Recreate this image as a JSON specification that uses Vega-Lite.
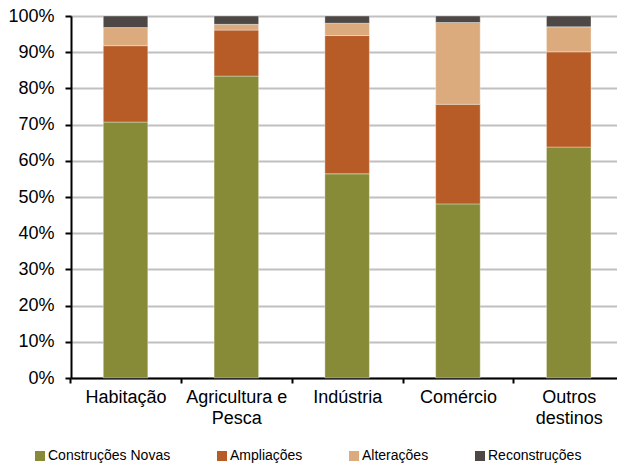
{
  "$schema": "https://vega.github.io/schema/vega-lite/v6.json",
  "autosize": "none",
  "width": 546,
  "height": 362,
  "padding": {"left": 71, "top": 16, "right": 0, "bottom": 90},
  "background": "white",
  "config": {
    "font": "Liberation Sans",
    "view": {"stroke": null}
  },
  "data": {
    "values": [
      {"destino": "Habitação", "tipo": "Construções Novas", "valor": 70.7},
      {"destino": "Habitação", "tipo": "Ampliações", "valor": 21.1},
      {"destino": "Habitação", "tipo": "Alterações", "valor": 5.0},
      {"destino": "Habitação", "tipo": "Reconstruções", "valor": 3.2},
      {"destino": "Agricultura e Pesca", "tipo": "Construções Novas", "valor": 83.4},
      {"destino": "Agricultura e Pesca", "tipo": "Ampliações", "valor": 12.7},
      {"destino": "Agricultura e Pesca", "tipo": "Alterações", "valor": 1.6},
      {"destino": "Agricultura e Pesca", "tipo": "Reconstruções", "valor": 2.3},
      {"destino": "Indústria", "tipo": "Construções Novas", "valor": 56.4},
      {"destino": "Indústria", "tipo": "Ampliações", "valor": 38.2},
      {"destino": "Indústria", "tipo": "Alterações", "valor": 3.4},
      {"destino": "Indústria", "tipo": "Reconstruções", "valor": 2.0},
      {"destino": "Comércio", "tipo": "Construções Novas", "valor": 48.1},
      {"destino": "Comércio", "tipo": "Ampliações", "valor": 27.5},
      {"destino": "Comércio", "tipo": "Alterações", "valor": 22.6},
      {"destino": "Comércio", "tipo": "Reconstruções", "valor": 1.8},
      {"destino": "Outros destinos", "tipo": "Construções Novas", "valor": 63.8},
      {"destino": "Outros destinos", "tipo": "Ampliações", "valor": 26.3},
      {"destino": "Outros destinos", "tipo": "Alterações", "valor": 6.9},
      {"destino": "Outros destinos", "tipo": "Reconstruções", "valor": 3.0}
    ]
  },
  "transform": [
    {"calculate": "indexof(['Construções Novas', 'Ampliações', 'Alterações', 'Reconstruções'], datum.tipo)", "as": "ordem"}
  ],
  "mark": {"type": "bar", "stroke": "#ffffff", "strokeOpacity": 0.35, "strokeWidth": 1},
  "encoding": {
    "x": {
      "field": "destino",
      "type": "nominal",
      "sort": null,
      "scale": {"paddingInner": 0.598, "paddingOuter": 0.263, "align": 0.554},
      "axis": {
        "title": null,
        "labelAngle": 0,
        "labelFontSize": 18,
        "labelColor": "#000000",
        "labelLineHeight": 21,
        "labelPadding": 5,
        "tickSize": 5,
        "tickColor": "#000000",
        "tickWidth": 2,
        "tickOffset": -55.4,
        "labelOffset": 55.4,
        "domainColor": "#000000",
        "domainWidth": 2,
        "grid": false,
        "labelExpr": "datum.label == 'Agricultura e Pesca' ? ['Agricultura e', 'Pesca'] : datum.label == 'Outros destinos' ? ['Outros', 'destinos'] : datum.label"
      }
    },
    "y": {
      "field": "valor",
      "type": "quantitative",
      "stack": "normalize",
      "scale": {"domain": [0, 1], "nice": false},
      "axis": {
        "title": null,
        "format": ".0%",
        "values": [0, 0.1, 0.2, 0.3, 0.4, 0.5, 0.6, 0.7, 0.8, 0.9, 1],
        "labelFontSize": 18,
        "labelColor": "#000000",
        "labelPadding": 11,
        "tickSize": 6,
        "tickColor": "#000000",
        "tickWidth": 2,
        "domainColor": "#000000",
        "domainWidth": 2,
        "gridColor": "#c0c0c0",
        "gridWidth": 2
      }
    },
    "color": {
      "field": "tipo",
      "type": "nominal",
      "sort": ["Construções Novas", "Ampliações", "Alterações", "Reconstruções"],
      "scale": {
        "domain": ["Construções Novas", "Ampliações", "Alterações", "Reconstruções"],
        "range": ["#878b37", "#b85c27", "#dbaa7d", "#4d4845"]
      },
      "legend": {
        "title": null,
        "orient": "none",
        "legendX": -38,
        "legendY": 433,
        "direction": "horizontal",
        "columns": 4,
        "symbolType": "square",
        "symbolSize": 100,
        "symbolStrokeWidth": 0,
        "labelFontSize": 14,
        "labelColor": "#000000",
        "labelOffset": 1,
        "labelLimit": 300,
        "columnPadding": 44
      }
    },
    "order": {"field": "ordem", "type": "quantitative", "sort": "ascending"}
  }
}
